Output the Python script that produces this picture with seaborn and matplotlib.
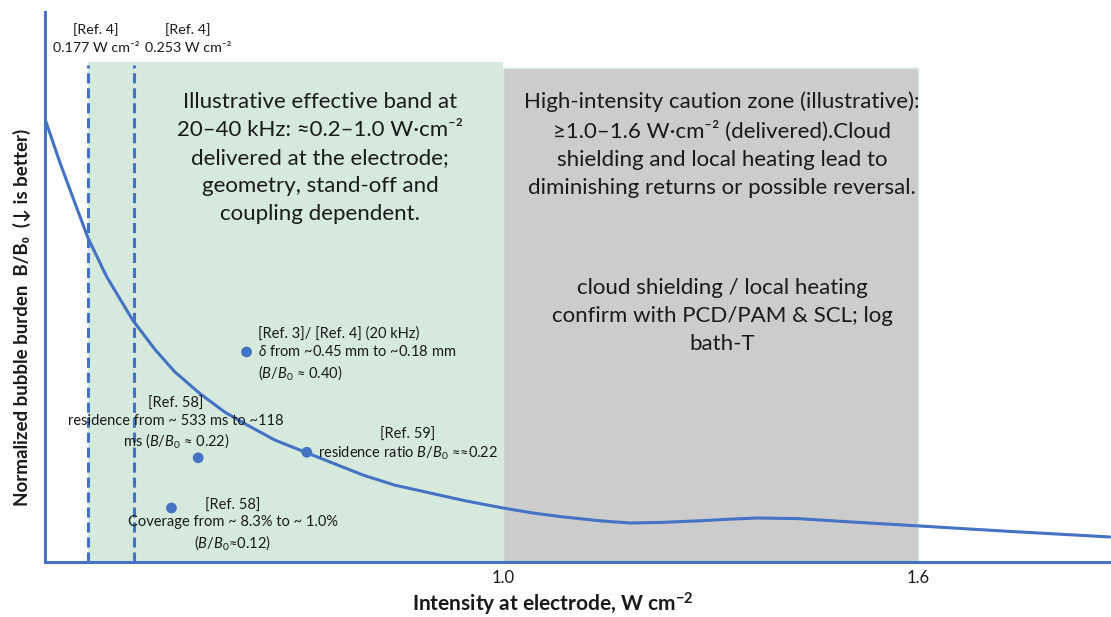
import numpy as np
import pandas as pd
import matplotlib
matplotlib.use("Agg")
import matplotlib.pyplot as plt
import seaborn as sns

# Curva ilustrativa B/B0 frente a la intensidad
intensity = [0.106, 0.131, 0.156, 0.177, 0.208, 0.251, 0.296, 0.336, 0.387, 0.437,
             0.482, 0.538, 0.603, 0.660, 0.717, 0.781, 0.852, 0.923, 1.000, 1.043,
             1.087, 1.140, 1.184, 1.227, 1.285, 1.329, 1.368, 1.425, 1.502, 1.598,
             1.718, 1.877]
burden = [0.818, 0.739, 0.666, 0.605, 0.535, 0.457, 0.404, 0.364, 0.325, 0.292,
          0.269, 0.242, 0.219, 0.199, 0.179, 0.161, 0.147, 0.133, 0.120, 0.111,
          0.104, 0.097, 0.093, 0.094, 0.097, 0.100, 0.102, 0.101, 0.095, 0.088,
          0.079, 0.068]

# Puntos de referencia
pt_intensity = [0.481, 0.383, 0.329, 0.603]
pt_burden = [0.40, 0.21, 0.12, 0.22]

# Lineas verticales [Ref. 4]
ref_lines = [0.177, 0.253]
ref_labels = ["[Ref. 4]\n0.177 W cm⁻²", "[Ref. 4]\n0.253 W cm⁻²"]

# Bandas
band_effective = [0.177, 1.0]
band_caution = [1.0, 1.6]

xticks = [1.0, 1.6]
xtick_labels = ["1.0", "1.6"]

# El eje x del original no es lineal: escala por tramos
axis_I = [0.0, 0.177, 0.253, 1.0, 1.6, 2.0]
axis_pos = [-0.060, 0.0403, 0.0835, 0.4296, 0.8189, 1.0785]


def fwd(x):
    return np.interp(x, axis_I, axis_pos)


def inv(p):
    return np.interp(p, axis_pos, axis_I)


blue = "#4472C4"
green = "#D5EADC"
gray = "#CCCCCC"
txt = "#1a1a1a"

sns.set_theme(style="white")
plt.rcParams['font.family'] = ['Lato', 'DejaVu Sans']
plt.rcParams['mathtext.fontset'] = 'custom'
plt.rcParams['mathtext.rm'] = 'Lato'
plt.rcParams['mathtext.it'] = 'Lato:italic'
plt.rcParams['mathtext.bf'] = 'Lato:bold'

fig = plt.figure(figsize=(11.11, 6.17), dpi=100)
ax = fig.add_axes([0.0405, 0.0891, 0.9595, 0.8914])

ax.set_xscale('function', functions=(fwd, inv))
ymin, ymax = 0.023, 1.010

# Bandas de fondo
ax.fill_between(band_effective, ymin, 0.921, color=green, lw=0, zorder=0)
ax.fill_between(band_caution, ymin, 0.910, facecolor=gray, edgecolor=green, lw=1, zorder=0.5)

# Lineas discontinuas
ax.vlines(ref_lines, ymin, 0.915, colors=blue, linestyles=(0, (3.3, 1.6)), lw=2.2, zorder=1)
for x, lab, dx in zip(ref_lines, ref_labels, [8, 54]):
    ax.annotate(lab, (x, 0.963), xytext=(dx, 0), textcoords='offset pixels',
                ha='center', va='center', fontsize=10.3, color=txt, linespacing=1.6)

# Curva y puntos
df_curve = pd.DataFrame({'I': intensity, 'B': burden})
sns.lineplot(data=df_curve, x='I', y='B', sort=False, estimator=None,
             color=blue, lw=2.2, ax=ax, zorder=3)
df_pts = pd.DataFrame({'I': pt_intensity, 'B': pt_burden})
sns.scatterplot(data=df_pts, x='I', y='B', color=blue, s=60, edgecolor='none',
                ax=ax, zorder=4)

# Textos de las bandas
big = dict(fontsize=16, color=txt, linespacing=1.5, ha='center', va='center')
ax.text(0.630, 0.748,
        "Illustrative effective band at\n20–40 kHz: ≈0.2–1.0 W·cm⁻²\n"
        "delivered at the electrode;\ngeometry, stand-off and\ncoupling dependent.", **big)
ax.text(1.317, 0.772,
        "High-intensity caution zone (illustrative):\n≥1.0–1.6 W·cm⁻² (delivered).Cloud\n"
        "shielding and local heating lead to\ndiminishing returns or possible reversal.", **big)
ax.text(1.317, 0.465,
        "cloud shielding / local heating\nconfirm with PCD/PAM & SCL; log\nbath-T", **big)

# Anotaciones de los puntos
small = dict(fontsize=10.5, color=txt, linespacing=1.25)
ax.text(0.504, 0.396, "[Ref. 3]/ [Ref. 4] (20 kHz)\n$\\delta$ from ~0.45 mm to ~0.18 mm\n($B/B_0$ ≈ 0.40)",
        ha='left', va='center', **small)
ax.text(0.338, 0.271, "[Ref. 58]\nresidence from ~ 533 ms to ~118\nms ($B/B_0$ ≈ 0.22)",
        ha='center', va='center', **small)
ax.text(0.453, 0.089, "[Ref. 58]\nCoverage from ~ 8.3% to ~ 1.0%\n($B/B_0$≈0.12)",
        ha='center', va='center', **small)
ax.text(0.808, 0.233, "[Ref. 59]\nresidence ratio $B/B_0$ ≈≈0.22",
        ha='center', va='center', **small)

# Ejes
ax.set_xlim(0.106, 1.879)
ax.set_ylim(ymin, ymax)
ax.set_xticks(xticks)
ax.set_xticklabels(xtick_labels)
ax.minorticks_off()
ax.set_yticks([])
ax.tick_params(axis='x', length=0, pad=6, labelsize=12, labelcolor=txt)
for side in ['top', 'right']:
    ax.spines[side].set_visible(False)
for side in ['left', 'bottom']:
    ax.spines[side].set_color(blue)
    ax.spines[side].set_linewidth(2.2)

ax.set_xlabel(r"Intensity at electrode, W cm$^{\mathbf{-2}}$", fontsize=15,
              fontweight='bold', color=txt)
ax.xaxis.set_label_coords(0.4765, -0.052)
ax.set_ylabel("Normalized bubble burden  B/B₀  (↓ is better)", fontsize=13.5,
              fontweight='bold', color=txt)
ax.yaxis.set_label_coords(-0.013, 0.445)

fig.savefig("out.png", dpi=100)
